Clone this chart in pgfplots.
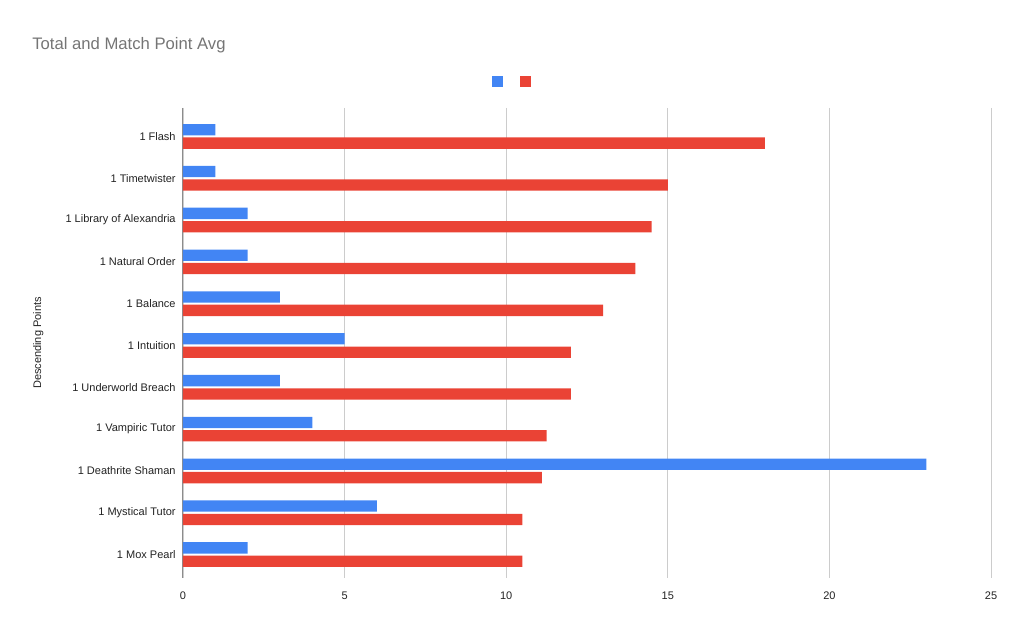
\documentclass[border=0pt]{standalone}
\usepackage{pgfplots}
\pgfplotsset{compat=1.18}
\usepackage{fontspec}
\setmainfont{Liberation Sans}
\definecolor{gblue}{HTML}{4285F4}
\definecolor{gred}{HTML}{EA4335}
\definecolor{ttl}{HTML}{757575}
\definecolor{lbl}{HTML}{222222}
\definecolor{grd}{HTML}{CCCCCC}
\begin{document}
\begin{tikzpicture}[x=1pt,y=1pt]
\useasboundingbox (0,0) rectangle (768,475.5);
\node[anchor=west, text=ttl, font=\fontsize{12.5}{14}\selectfont, inner sep=0pt] at (24,441.5) {Total and Match Point Avg};
\begin{axis}[
  at={(137.25pt,42pt)}, anchor=south west,
  scale only axis, width=606pt, height=352.5pt,
  xbar, bar width=0.27,
  xmin=0, xmax=25, ymin=-0.68, ymax=10.56, y dir=reverse,
  ytick={0,...,10},
  yticklabels={1 Flash,1 Timetwister,1 Library of Alexandria,1 Natural Order,1 Balance,1 Intuition,1 Underworld Breach,1 Vampiric Tutor,1 Deathrite Shaman,1 Mystical Tutor,1 Mox Pearl},
  xtick={0,5,...,25},
  extra x ticks={0}, extra x tick labels={},
  extra x tick style={grid style={draw=gray!90, line width=0.75pt}},
  xmajorgrids, grid style={draw=grd, line width=0.6pt},
  axis line style={draw=none},
  major tick length=0pt,
  tick label style={font=\fontsize{8.25}{10}\selectfont, text=lbl},
  xticklabel style={yshift=-7pt},
  yticklabel style={xshift=-2pt},
  /pgf/number format/assume math mode=true,
  ylabel={Descending Points},
  every axis y label/.style={at={(-0.179,0.5)}, rotate=90, anchor=center},
  ylabel style={font=\fontsize{8.25}{10}\selectfont, text=lbl},
  legend columns=2,
  legend style={at={(0.41,1.057)}, anchor=center, draw=none, fill=none,
    /tikz/every even column/.append style={column sep=8.5pt}},
  legend image code/.code={\fill[#1,draw=none] (0pt,-4.1pt) rectangle (8.25pt,4.1pt);},
]
\addplot[fill=gblue, draw=none, bar shift=-0.16] coordinates {
(1,0) (1,1) (2,2) (2,3) (3,4) (5,5) (3,6) (4,7) (23,8) (6,9) (2,10)};
\addlegendentry{}
\addplot[fill=gred, draw=none, bar shift=0.16] coordinates {
(18,0) (15,1) (14.5,2) (14,3) (13,4) (12,5) (12,6) (11.25,7) (11.1,8) (10.5,9) (10.5,10)};
\addlegendentry{}
\end{axis}
\end{tikzpicture}
\end{document}
